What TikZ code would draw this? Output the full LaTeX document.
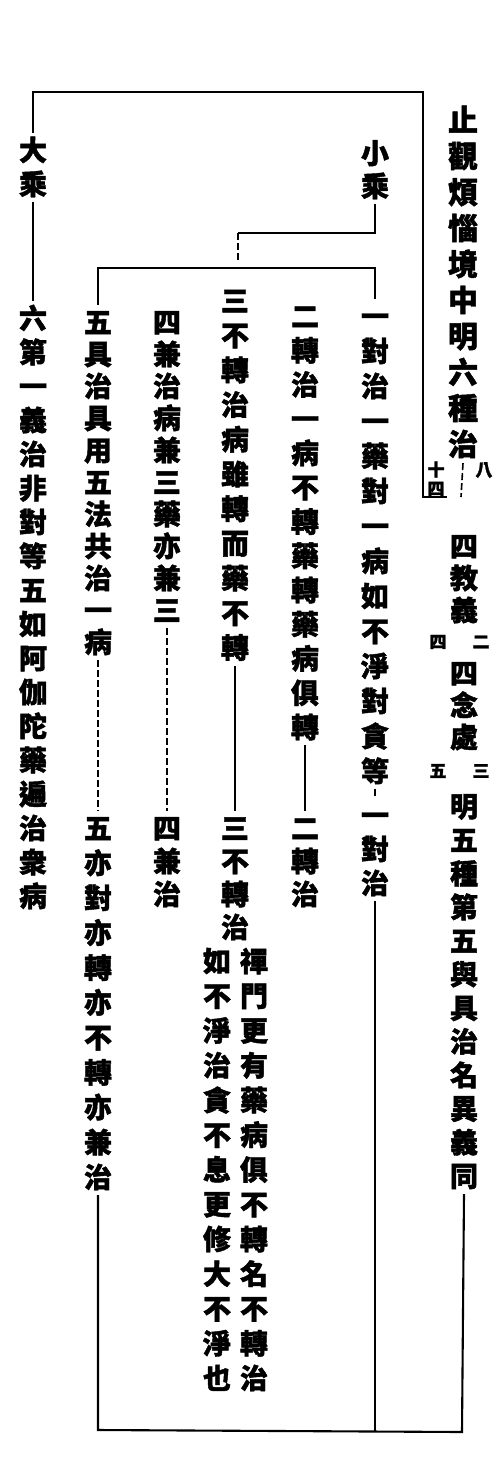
\documentclass[tikz,border=0pt]{standalone}
\usepackage{fontspec}
\newfontfamily\cjk{Noto Sans CJK TC}[BoldFeatures={FakeBold=1.5}]
% vertical column: #1 = pitch, #2 = characters separated by \\
\newcommand\vcol[2]{\vbox{\let\\\cr\baselineskip=#1\lineskip=0pt\lineskiplimit=-100pt
  \halign{\hfil\vrule height .88em depth .12em width 0pt##\hfil\cr#2\crcr}}}
\begin{document}
\begin{tikzpicture}[x=1pt,y=-1pt,
  txt/.style={font=\cjk\bfseries\fontsize{28}{30}\selectfont, inner sep=0pt},
  ttl/.style={font=\cjk\bfseries\fontsize{30}{30}\selectfont, inner sep=0pt},
  ann/.style={font=\cjk\bfseries\fontsize{17}{18}\selectfont, inner sep=0pt},
  ln/.style={line width=2.1pt},
  dl/.style={line width=1.6pt, dash pattern=on 7pt off 3pt}]
\useasboundingbox (0,0) rectangle (496,1464);
\fill[white] (0,0) rectangle (496,1464);

% right column
\node[ttl] (title) at (463,282) {\vcol{36pt}{止\\觀\\煩\\惱\\境\\中\\明\\六\\種\\治}};
\node[ann] (a8) at (484,470) {八};
\node[ann] (a14) at (436,479) {\vcol{19pt}{十\\四}};
\node[txt] (r1) at (464,578) {\vcol{32pt}{四\\教\\義}};
\node[ann] (a4) at (438,642) {四};
\node[ann] (a2) at (481,642) {二};
\node[txt] (r2) at (464,705) {\vcol{32pt}{四\\念\\處}};
\node[ann] (a5) at (438,771) {五};
\node[ann] (a3) at (481,771) {三};
\node[txt] (r3) at (464,991) {\vcol{33.6pt}{明\\五\\種\\第\\五\\與\\具\\治\\名\\異\\義\\同}};

% labels at the top
\node[txt] (dac) at (33,167) {\vcol{34pt}{大\\乘}};
\node[txt] (xc) at (375,169.5) {\vcol{33pt}{小\\乘}};

% columns
\node[txt] (c1) at (375,543.5) {\vcol{35pt}{一\\對\\治\\一\\藥\\對\\一\\病\\如\\不\\淨\\對\\貪\\等}};
\node[txt] (c1b) at (375,849) {\vcol{34pt}{一\\對\\治}};
\node[txt] (c2) at (305,521.5) {\vcol{34.25pt}{二\\轉\\治\\一\\病\\不\\轉\\藥\\轉\\藥\\病\\俱\\轉}};
\node[txt] (c2b) at (305,861) {\vcol{33pt}{二\\轉\\治}};
\node[txt] (c3) at (235,474) {\vcol{34.7pt}{三\\不\\轉\\治\\病\\雖\\轉\\而\\藥\\不\\轉}};
\node[txt] (c3b) at (235,877.5) {\vcol{33pt}{三\\不\\轉\\治}};
\node[txt] (c3c) at (254,1169.5) {\vcol{34.75pt}{禪\\門\\更\\有\\藥\\病\\俱\\不\\轉\\名\\不\\轉\\治}};
\node[txt] (c3d) at (217,1169.5) {\vcol{34.75pt}{如\\不\\淨\\治\\貪\\不\\息\\更\\修\\大\\不\\淨\\也}};
\node[txt] (c4) at (167,466) {\vcol{32pt}{四\\兼\\治\\病\\兼\\三\\藥\\亦\\兼\\三}};
\node[txt] (c4b) at (167,861) {\vcol{33pt}{四\\兼\\治}};
\node[txt] (c5) at (98,482) {\vcol{32pt}{五\\具\\治\\具\\用\\五\\法\\共\\治\\一\\病}};
\node[txt] (c5b) at (98,1002.5) {\vcol{34.9pt}{五\\亦\\對\\亦\\轉\\亦\\不\\轉\\亦\\兼\\治}};
\node[txt] (c6) at (33,607) {\vcol{34pt}{六\\第\\一\\義\\治\\非\\對\\等\\五\\如\\阿\\伽\\陀\\藥\\遍\\治\\衆\\病}};

% coordinates
\coordinate (tl) at (33,92);
\coordinate (tr) at (423,92);
\coordinate (trb) at (423,497);
\coordinate (trc) at (447,497);
\coordinate (td) at (461,497);
\coordinate (s1) at (375,233);
\coordinate (s2) at (238,233);
\coordinate (s3) at (238,262);
\coordinate (h1) at (98,268);
\coordinate (h2) at (375,268);
\coordinate (bl) at (98,1430);
\coordinate (br) at (462,1432);
\coordinate (b1) at (375,1431);

% connectors (canvas yshift: positive = up)
\draw[ln] ([yshift=3pt]dac.north) -- (tl) -- (tr) -- (trb) -- (trc);
\draw[dl] ([yshift=-4pt]title.south) -- (td);
\draw[ln] ([yshift=-4pt]dac.south) -- ([yshift=3pt]c6.north);
\draw[ln] ([yshift=-4pt]xc.south) -- (s1) -- (s2);
\draw[dl] (s2) -- (s3);
\draw[ln] ([yshift=3pt]c5.north) -- (h1) -- (h2) -- ([yshift=3pt]c1.north);
\draw[dl] ([yshift=-4pt]c1.south) -- ([yshift=3pt]c1b.north);
\draw[ln] ([yshift=-4pt]c2.south) -- ([yshift=3pt]c2b.north);
\draw[ln] ([yshift=-4pt]c3.south) -- ([yshift=3pt]c3b.north);
\draw[dl] ([yshift=-4pt]c4.south) -- ([yshift=3pt]c4b.north);
\draw[dl] ([yshift=-4pt]c5.south) -- ([yshift=3pt]c5b.north);
\draw[ln] ([yshift=-4pt]c5b.south) -- (bl) -- (br) -- ([yshift=-4pt]r3.south);
\draw[ln] ([yshift=-4pt]c1b.south) -- (b1);
\end{tikzpicture}
\end{document}
